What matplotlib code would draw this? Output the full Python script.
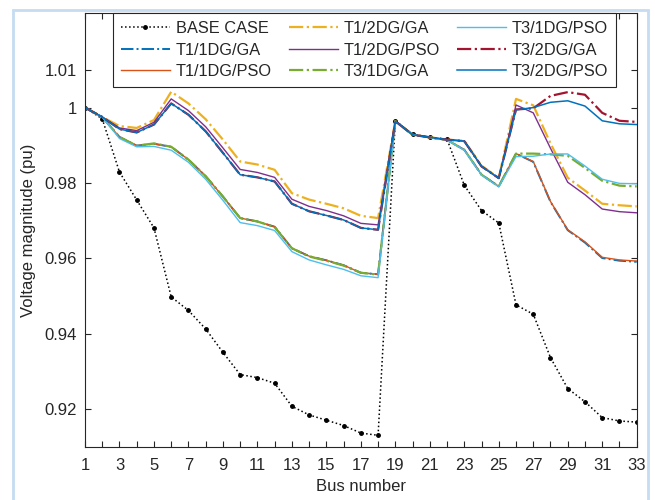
import matplotlib
matplotlib.use("Agg")
import matplotlib.pyplot as plt
from matplotlib.patches import Rectangle

plt.rcParams['font.family'] = ['Liberation Sans', 'DejaVu Sans']

bus = list(range(1, 34))

base_case = [1.0, 0.9970, 0.9829, 0.9755, 0.9681, 0.9498, 0.9462, 0.9413, 0.9351, 0.9292,
             0.9284, 0.9269, 0.9208, 0.9185, 0.9171, 0.9157, 0.9137, 0.9131, 0.9965, 0.9929,
             0.9922, 0.9916, 0.9794, 0.9727, 0.9694, 0.9477, 0.9452, 0.9337, 0.9255, 0.9220,
             0.9178, 0.9169, 0.9166]
t1_1dg_pso = [1.0, 0.9975, 0.9922, 0.9899, 0.9904, 0.9896, 0.9862, 0.9818, 0.9764, 0.9707,
              0.9698, 0.9684, 0.9627, 0.9606, 0.9595, 0.9582, 0.9562, 0.9558, 0.9964, 0.9928,
              0.9921, 0.9914, 0.9888, 0.9822, 0.9791, 0.9878, 0.9857, 0.9751, 0.9676, 0.9644,
              0.9603, 0.9596, 0.9593]
t1_1dg_ga = [1.0, 0.9975, 0.9922, 0.9899, 0.9904, 0.9896, 0.9862, 0.9818, 0.9764, 0.9707,
             0.9698, 0.9684, 0.9627, 0.9606, 0.9595, 0.9582, 0.9562, 0.9558, 0.9964, 0.9928,
             0.9921, 0.9914, 0.9888, 0.9822, 0.9791, 0.9878, 0.9856, 0.9750, 0.9675, 0.9642,
             0.9601, 0.9594, 0.9591]
t1_2dg_ga = [1.0, 0.9975, 0.9951, 0.9946, 0.9967, 1.0042, 1.0011, 0.9969, 0.9915, 0.9857,
             0.9849, 0.9835, 0.9773, 0.9756, 0.9745, 0.9733, 0.9713, 0.9707, 0.9964, 0.9928,
             0.9921, 0.9915, 0.9912, 0.9846, 0.9813, 1.0023, 1.0006, 0.9905, 0.9814, 0.9780,
             0.9745, 0.9741, 0.9738]
t1_2dg_pso = [1.0, 0.9975, 0.9946, 0.9939, 0.9961, 1.0023, 0.9992, 0.9949, 0.9893, 0.9836,
              0.9828, 0.9815, 0.9757, 0.9738, 0.9727, 0.9713, 0.9693, 0.9689, 0.9964, 0.9928,
              0.9921, 0.9915, 0.9911, 0.9844, 0.9812, 1.0007, 0.9986, 0.9892, 0.9802, 0.9769,
              0.9731, 0.9724, 0.9721]
t3_1dg_ga = [1.0, 0.9975, 0.9922, 0.9899, 0.9905, 0.9896, 0.9862, 0.9818, 0.9764, 0.9707,
             0.9698, 0.9683, 0.9627, 0.9605, 0.9594, 0.9581, 0.9562, 0.9557, 0.9964, 0.9928,
             0.9921, 0.9914, 0.9888, 0.9822, 0.9791, 0.9878, 0.9878, 0.9876, 0.9872, 0.9840,
             0.9806, 0.9793, 0.9791]
t3_1dg_pso = [1.0, 0.9975, 0.9918, 0.9896, 0.9897, 0.9887, 0.9855, 0.9810, 0.9754, 0.9695,
              0.9687, 0.9674, 0.9618, 0.9596, 0.9583, 0.9571, 0.9554, 0.9549, 0.9964, 0.9928,
              0.9921, 0.9914, 0.9887, 0.9821, 0.9790, 0.9870, 0.9871, 0.9877, 0.9877, 0.9845,
              0.9810, 0.9799, 0.9798]
t3_2dg_ga = [1.0, 0.9975, 0.9943, 0.9934, 0.9955, 1.0011, 0.9981, 0.9937, 0.9880, 0.9822,
             0.9815, 0.9804, 0.9745, 0.9725, 0.9714, 0.9702, 0.9681, 0.9676, 0.9964, 0.9928,
             0.9921, 0.9915, 0.9911, 0.9844, 0.9813, 0.9995, 0.9998, 1.0031, 1.0041, 1.0034,
             0.9986, 0.9965, 0.9962]
t3_2dg_pso = [1.0, 0.9975, 0.9943, 0.9934, 0.9955, 1.0011, 0.9981, 0.9937, 0.9880, 0.9822,
              0.9815, 0.9804, 0.9745, 0.9725, 0.9714, 0.9702, 0.9681, 0.9676, 0.9964, 0.9928,
              0.9921, 0.9915, 0.9911, 0.9844, 0.9813, 0.9994, 1.0000, 1.0014, 1.0018, 1.0004,
              0.9965, 0.9957, 0.9955]

x_ticks = list(range(1, 34, 2))
y_ticks = [0.92, 0.94, 0.96, 0.98, 1.0, 1.01]
y_tick_labels = ['0.92', '0.94', '0.96', '0.98', '1', '1.01']

fig = plt.figure(figsize=(6.55, 5.0), dpi=100)
fig.patches.append(Rectangle((13 / 655, -0.05), (648 - 13) / 655, 1.05 - 10 / 500,
                             transform=fig.transFigure, fill=False,
                             edgecolor='#c5dcf2', linewidth=2.0, zorder=0))
ax = fig.add_axes([85 / 655, 1 - 447 / 500, (636.7 - 85) / 655, (447 - 13.3) / 500])

ax.plot(bus, base_case, color='black', linestyle=':', marker='.', markersize=5,
        linewidth=1.1, label='BASE CASE')
ax.plot(bus, t1_1dg_ga, color='#0072BD', linestyle='-.', linewidth=1.4, label='T1/1DG/GA')
ax.plot(bus, t1_1dg_pso, color='#D95319', linestyle='-', linewidth=1.0, label='T1/1DG/PSO')
ax.plot(bus, t1_2dg_ga, color='#EDB120', linestyle='-.', linewidth=1.6, label='T1/2DG/GA')
ax.plot(bus, t1_2dg_pso, color='#7E2F8E', linestyle='-', linewidth=1.0, label='T1/2DG/PSO')
ax.plot(bus, t3_1dg_ga, color='#77AC30', linestyle='-.', linewidth=1.6, label='T3/1DG/GA')
ax.plot(bus, t3_1dg_pso, color='#4DBEEE', linestyle='-', linewidth=1.0, label='T3/1DG/PSO')
ax.plot(bus, t3_2dg_ga, color='#A2142F', linestyle='-.', linewidth=1.6, label='T3/2DG/GA')
ax.plot(bus, t3_2dg_pso, color='#0072BD', linestyle='-', linewidth=1.1, label='T3/2DG/PSO')

ax.set_xlim(1, 33)
ax.set_ylim(0.91, 1.025)
ax.set_xticks(bus, minor=True)
ax.set_xticks(x_ticks)
ax.set_xticklabels([str(v) for v in x_ticks])
ax.set_yticks(y_ticks)
ax.set_yticklabels(y_tick_labels)
ax.tick_params(axis='both', which='both', direction='in', top=True, right=True,
               length=4, width=0.8, labelsize=12, colors='#262626', labelcolor='#262626')
ax.tick_params(axis='x', which='both', pad=8)
ax.tick_params(axis='y', which='both', pad=6)
for s in ax.spines.values():
    s.set_color('#262626')
    s.set_linewidth(0.8)

ax.set_xlabel('Bus number', fontsize=12, color='#262626', labelpad=4)
ax.set_ylabel('Voltage magnitude (pu)', fontsize=12, color='#262626', labelpad=6)

leg = ax.legend(ncol=3, loc='upper left', bbox_to_anchor=((113 - 85) / (636.7 - 85), 1.0),
                borderaxespad=0, fontsize=11.8, handlelength=3.0, handletextpad=0.35,
                columnspacing=1.03, labelspacing=0.39, borderpad=0.48, fancybox=False,
                framealpha=1, edgecolor='#262626')
leg.get_frame().set_linewidth(0.8)
for t in leg.get_texts():
    t.set_color('#262626')

fig.savefig('out.png', dpi=100)
